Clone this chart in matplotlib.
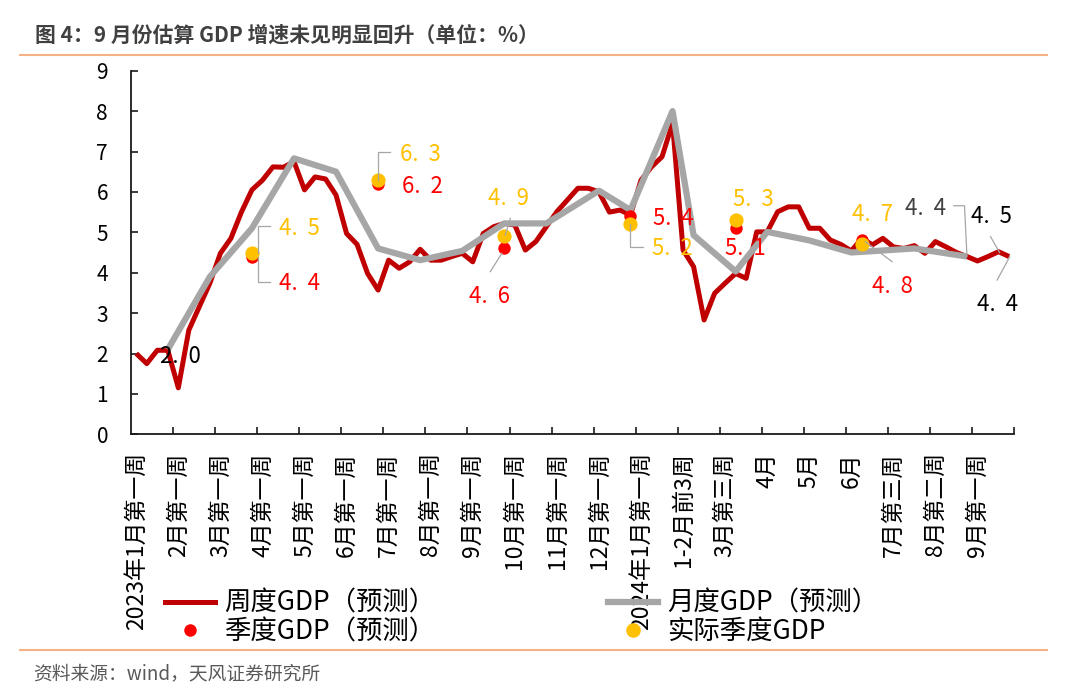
import matplotlib
matplotlib.use('Agg')
import matplotlib.pyplot as plt
from matplotlib.lines import Line2D
from matplotlib.transforms import IdentityTransform
import numpy as np

plt.rcParams['font.family'] = ['Noto Sans CJK SC', 'DejaVu Sans']

# ---------------- data ----------------
x_labels = ["2023年1月第一周", "2月第一周", "3月第一周", "4月第一周", "5月第一周",
            "6月第一周", "7月第一周", "8月第一周", "9月第一周", "10月第一周",
            "11月第一周", "12月第一周", "2024年1月第一周", "1-2月前3周", "3月第三周",
            "4月", "5月", "6月", "7月第三周", "8月第二周", "9月第一周"]

weekly_gdp = [2.00, 1.75, 2.08, 2.08, 1.15, 2.58, 3.16, 3.74, 4.48, 4.85,
              5.50, 6.05, 6.29, 6.62, 6.61, 6.75, 6.05, 6.37, 6.32, 5.92,
              4.97, 4.70, 3.98, 3.57, 4.31, 4.11, 4.27, 4.58, 4.31, 4.31,
              4.40, 4.48, 4.27, 4.97, 5.14, 5.22, 5.18, 4.56, 4.77, 5.14,
              5.51, 5.80, 6.09, 6.09, 6.00, 5.50, 5.55, 5.43, 6.29, 6.62,
              6.87, 7.70, 4.56, 4.15, 2.83, 3.49, 3.74, 3.98, 3.86, 5.01,
              5.01, 5.51, 5.63, 5.63, 5.10, 5.10, 4.81, 4.70, 4.54, 4.85,
              4.69, 4.85, 4.64, 4.60, 4.67, 4.48, 4.77, 4.64, 4.50, 4.40,
              4.29, 4.40, 4.52, 4.40]

monthly_idx = [3, 7, 11, 15, 19, 23, 27, 31, 35, 39, 44, 47, 51, 53, 57, 60, 64, 68, 74, 79]
monthly_gdp = [2.1, 3.9, 5.1, 6.83, 6.5, 4.6, 4.31, 4.54, 5.22, 5.22, 6.03, 5.55,
               8.0, 4.93, 4.03, 5.01, 4.8, 4.5, 4.6, 4.4]

quarter_idx = [11, 23, 35, 47, 57, 69]
quarter_pred = [4.4, 6.2, 4.6, 5.4, 5.1, 4.8]
quarter_actual = [4.5, 6.3, 4.9, 5.2, 5.3, 4.7]

legend_labels = ["周度GDP（预测）", "季度GDP（预测）", "月度GDP（预测）", "实际季度GDP"]
title = "图 4：9 月份估算 GDP 增速未见明显回升（单位：%）"
source = "资料来源：wind，天风证券研究所"

RED_LINE = '#C00000'
GRAY = '#A6A6A6'
RED = '#FF0000'
YELLOW = '#FFC000'

W, H = 1080, 699
fig = plt.figure(figsize=(W / 100, H / 100), dpi=100)

ax_l, ax_r, ax_t, ax_b = 131, 1014.3, 70.7, 434.3
ax = fig.add_axes([ax_l / W, 1 - ax_b / H, (ax_r - ax_l) / W, (ax_b - ax_t) / H])

x = np.arange(len(weekly_gdp))
ax.plot(x, weekly_gdp, color=RED_LINE, lw=3.6, zorder=2, solid_capstyle='butt')
ax.plot(monthly_idx, monthly_gdp, color=GRAY, lw=4.5, zorder=3, solid_capstyle='butt')
ax.scatter(quarter_idx, quarter_pred, s=80, color=RED, linewidths=0, zorder=4)
ax.scatter(quarter_idx, quarter_actual, s=105, color=YELLOW, linewidths=0, zorder=5)

ax.set_xlim(-0.5, len(weekly_gdp) - 0.5)
ax.set_ylim(0, 9)

for s in ['top', 'right']:
    ax.spines[s].set_visible(False)
for s in ['left', 'bottom']:
    ax.spines[s].set_color('#1a1a1a')
    ax.spines[s].set_linewidth(1.3)

label_pos = np.arange(len(x_labels)) * 4
ax.set_xticks(label_pos)
ax.set_xticklabels(x_labels, rotation=90, fontsize=16.5)
ax.set_xticks(np.arange(1, len(x_labels) + 1) * 4 - 0.5, minor=True)
ax.tick_params(axis='x', which='major', length=0, pad=13)
ax.tick_params(axis='x', which='minor', direction='in', length=5, width=1.2, color='#1a1a1a')
ax.set_yticks(range(0, 10))
ax.tick_params(axis='y', direction='in', length=5, width=1.2, color='#1a1a1a',
               labelsize=15, pad=16.5)

fig.canvas.draw()


def fmt(v):
    return f"{v:.1f}".replace('.', '.  ')


def label(xi, v, text, color, dx, dy_center, size=16):
    # dy_center: vertical offset of the digits' visual centre (pixels, up positive)
    ax.annotate(text, xy=(xi, v), xytext=(dx, dy_center - 8.1), textcoords='offset pixels',
                ha='left', va='baseline', color=color, fontsize=size, zorder=6)


def leader(xi, v, pts):
    bx, by = ax.transData.transform((xi, v))
    xs = [bx + p[0] for p in pts]
    ys = [by + p[1] for p in pts]
    fig.add_artist(Line2D(xs, ys, transform=IdentityTransform(), color=GRAY, lw=0.9, zorder=6))


# Quarterly labels (offsets in pixels relative to each dot)
q_layout = [
    ((27, 25.8), [(6.4, 0), (6.4, 26.8), (18, 26.8)], (27, -25.2), [(6.4, 0), (6.4, -25.2), (18, -25.2)]),
    ((22, 26.5), [(0, 0), (0, 28), (12, 28)], (24, -1.2), None),
    ((-16, 39.6), [(1, 1.3), (6, 18)], (-35, -46.5), [(-2.4, -4.8), (-14, -23.2)]),
    ((22, -23.1), [(0, 0), (0, -22.5), (13, -22.5)], (23, -0.6), None),
    ((-3, 21.9), None, (-11, -18.4), None),
    ((-9.4, 31.1), [(3.6, 2.7), (30.3, -17.3)], (10.6, -44.6), None),
]
for qi, qa, qp, lay in zip(quarter_idx, quarter_actual, quarter_pred, q_layout):
    (adx, ady), al, (pdx, pdy), pl = lay
    if al:
        leader(qi, qa, al)
    if pl:
        leader(qi, qp, pl)
    label(qi, qa, fmt(qa), YELLOW, adx, ady)
    label(qi, qp, fmt(qp), RED, pdx, pdy)

# end-point labels
gi = len(monthly_idx) - 1
leader(monthly_idx[gi], monthly_gdp[gi], [(0, 0), (-2.5, 50.8), (-13.2, 50.8)])
label(monthly_idx[gi], monthly_gdp[gi], fmt(monthly_gdp[gi]), '#404040', -61.5, 49.8)
leader(82, weekly_gdp[82], [(1.2, -1), (-8, 15)])
label(82, weekly_gdp[82], fmt(weekly_gdp[82]), 'black', -28, 36.7)
leader(83, weekly_gdp[83], [(0.7, -0.2), (-11.9, -23.5)])
label(83, weekly_gdp[83], fmt(weekly_gdp[83]), 'black', -31.6, -46.8)
label(monthly_idx[0], monthly_gdp[0], fmt(2.0), 'black', -7.8, -5.5)

# legends
h_week = Line2D([], [], color=RED_LINE, lw=3.6)
h_q = Line2D([], [], color=RED, marker='o', linestyle='', markersize=9, markeredgewidth=0)
h_month = Line2D([], [], color=GRAY, lw=4.5)
h_act = Line2D([], [], color=YELLOW, marker='o', linestyle='', markersize=10.5, markeredgewidth=0)

common = dict(frameon=False, borderpad=0, borderaxespad=0, handlelength=1.9,
              handletextpad=0.34, labelspacing=0.05, fontsize=19, loc='center left')
leg1 = fig.legend([h_week, h_q], legend_labels[:2],
                  bbox_to_anchor=(165 / W, 1 - 617.5 / H), **common)
leg2 = fig.legend([h_month, h_act], legend_labels[2:],
                  bbox_to_anchor=(608 / W, 1 - 617.5 / H), **common)

# title, rules, source
fig.text(35 / W, 1 - 35 / H, title, fontsize=15, fontweight='bold', color='#404040',
         ha='left', va='center')
fig.add_artist(Line2D([20 / W, 1047 / W], [1 - 55 / H, 1 - 55 / H], color='#F4B183', lw=1.5))
fig.add_artist(Line2D([20 / W, 1047 / W], [1 - 650 / H, 1 - 650 / H], color='#F4B183', lw=1.5))
fig.text(33 / W, 1 - 674 / H, source, fontsize=13.5, color='#595959', ha='left', va='center')

fig.savefig('out.png', dpi=100)
